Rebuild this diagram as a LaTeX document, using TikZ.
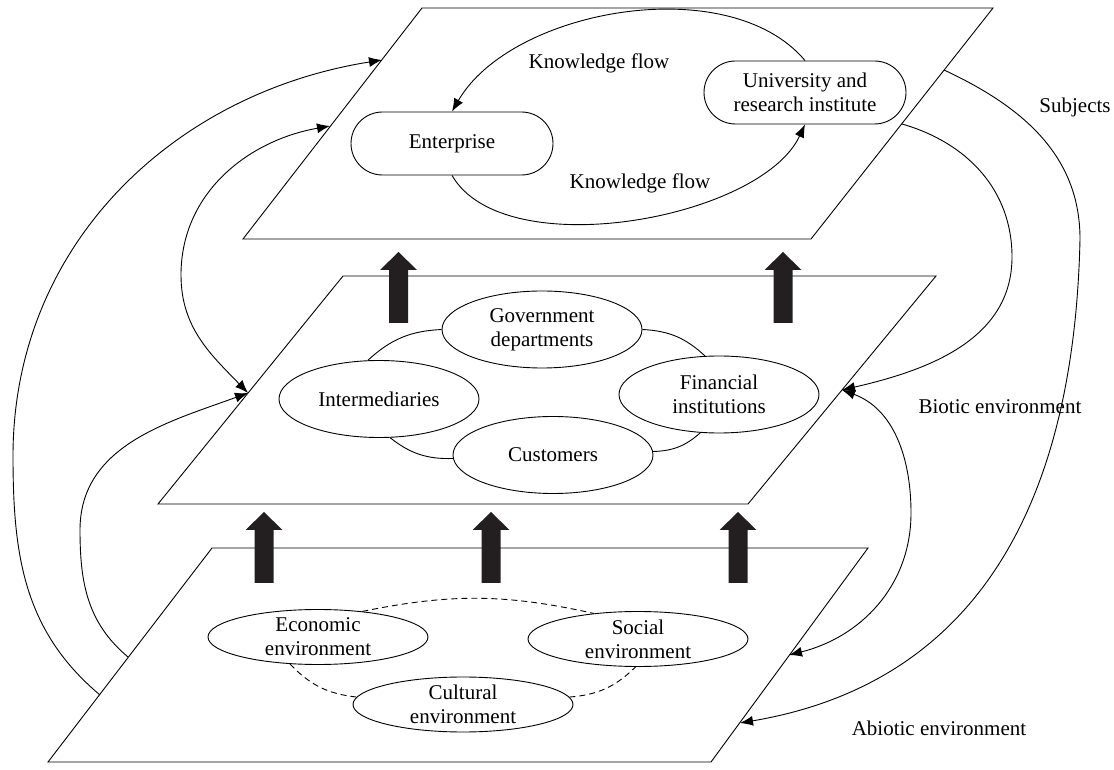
\documentclass[tikz,border=0pt]{standalone}
\usepackage{fontspec}
\setmainfont{Liberation Serif}
\usetikzlibrary{shapes.geometric, arrows.meta, positioning}
\definecolor{arrowblack}{HTML}{231F20}

\tikzset{fatarrow/.pic={\fill[arrowblack] (-9.5,0) -- (-9.5,53) -- (-18.5,53) -- (0,71) -- (18.5,53) -- (9.5,53) -- (9.5,0) -- cycle;}}

\begin{document}
\begin{tikzpicture}[x=1pt, y=1pt, line width=0.9pt, font=\fontsize{21}{24}\selectfont]
% Define styles
\tikzstyle{subject} = [rectangle, rounded corners=31.5pt, minimum width=202pt, minimum height=63pt, text centered, align=center, draw]
\tikzstyle{agent} = [ellipse, minimum width=200pt, minimum height=77pt, inner sep=0pt, align=center, draw, fill=white]
\tikzstyle{envnode} = [ellipse, minimum width=220pt, minimum height=55pt, inner xsep=0pt, inner ysep=-4pt, align=center, draw, fill=white]
\tikzstyle{flow} = [-{Latex[length=13pt, width=10pt]}]
\tikzstyle{flowboth} = [{Latex[length=13pt, width=10pt]}-{Latex[length=13pt, width=10pt]}]
\tikzstyle{ring} = [bend left=20]
\tikzstyle{envlink} = [dash pattern=on 6pt off 4pt]

\useasboundingbox (0,0) rectangle (1114,769);

% Planes
\coordinate (tpBL) at (243,530); \coordinate (tpTL) at (422,761);
\coordinate (tpTR) at (993,761); \coordinate (tpBR) at (811,530);
\coordinate (mpBL) at (158,265); \coordinate (mpTL) at (343,493);
\coordinate (mpTR) at (936,493); \coordinate (mpBR) at (748,265);
\coordinate (bpBL) at (48,7); \coordinate (bpTL) at (212,221);
\coordinate (bpTR) at (868,221); \coordinate (bpBR) at (711,7);
\draw (tpBL) -- (tpTL) -- (tpTR) -- (tpBR) -- cycle;
\draw (mpBL) -- (mpTL) -- (mpTR) -- (mpBR) -- cycle;
\draw (bpBL) -- (bpTL) -- (bpTR) -- (bpBR) -- cycle;

% Fat arrows between planes
\pic (upA) at (398.5,446) {fatarrow};
\pic (upB) at (783,446) {fatarrow};
\pic (lowA) at (264,186) {fatarrow};
\pic (lowB) at (491,186) {fatarrow};
\pic (lowC) at (738,186) {fatarrow};

% Nodes
\node (ent) [subject] at (452,625.5) {Enterprise};
\node (uni) [subject] at (805,676.5) {University and\\research institute};
\node (kfup) at (599,706) {Knowledge flow};
\node (kflow) at (640,586) {Knowledge flow};

\node (gov) [agent] at (542,439.5) {Government\\departments};
\node (inter) [agent] at (379,370) {Intermediaries};
\node (fin) [agent] at (719,374.5) {Financial\\institutions};
\node (cus) [agent] at (553,314) {Customers};

\node (eco) [envnode] at (318,132) {Economic\\environment};
\node (soc) [envnode] at (638,130) {Social\\environment};
\node (cul) [envnode] at (463,64.5) {Cultural\\environment};

\node (subj) at (1075,662) {Subjects};
\node (biotic) at (1000,362) {Biotic environment};
\node (abiotic) at (939,41) {Abiotic environment};

% Points on the plane edges
\coordinate (tpL1) at (382,709);
\coordinate (tpL2) at (330,643);
\coordinate (tpR1) at (944,699);
\coordinate (tpR2) at (902,645);
\coordinate (mpL1) at (248,376);
\coordinate (mpR1) at (842,379);
\coordinate (bpL1) at (100,74);
\coordinate (bpL2) at (128,112);
\coordinate (bpR1) at (789,114);
\coordinate (bpR2) at (740,46);

% Knowledge flows
\draw[flow] (uni.north) to[out=130, in=60, looseness=0.85] (ent.north);
\draw[flow] (ent.south) to[out=-60, in=-115, looseness=0.75] (uni.south);

% Links between agents
\draw (inter.106) to[ring] (gov.180);
\draw (gov.0) to[ring] (fin.110);
\draw (fin.244) to[ring] (cus.2);
\draw (cus.182) to[ring] (inter.286);

% Links between environments
\draw[envlink] (eco.30) to[bend left=12] (soc.150);
\draw[envlink] (eco.224) to[bend right=20] (cul.176);
\draw[envlink] (cul.4) to[bend right=20] (soc.265);

% Connectors between planes
\draw[flow] (bpL1) to[out=140, in=-90] (13,313) to[out=90, in=189] (tpL1);
\draw[flow] (bpL2) to[out=140, in=-90] (80,239) to[out=90, in=200] (mpL1);
\draw[flowboth] (mpL1) to[out=134, in=-90] (181,494) to[out=90, in=190] (tpL2);
\draw[flow] (tpR2) to[out=-16, in=90] (1012,512) to[out=-90, in=13] (mpR1);
\draw[flowboth] (mpR1) to[out=-20, in=90] (911,256) to[out=-90, in=14] (bpR1);
\draw[flow] (tpR1) to[out=-25, in=90] (1080,530) .. controls (1075,300) and (1000,90) .. (bpR2);

\end{tikzpicture}
\end{document}
